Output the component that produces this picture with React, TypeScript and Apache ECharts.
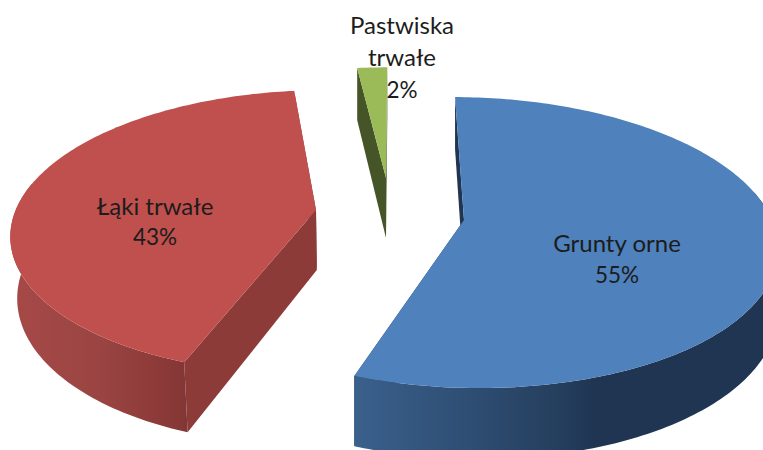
import React, { useEffect, useRef } from "react";
import * as echarts from "echarts";

const categories = ["Grunty orne", "Łąki trwałe", "Pastwiska\ntrwałe"];
const shares = [55.45, 42.55, 2.0];

const topColors = ["#4f81bd", "#c0504d", "#9bbb59"];
const cutColors = ["#1f3552", "#8d3b39", "#465527"];
const wallStops = [
  [[0, "#3a608c"], [0.27, "#2e4e73"], [0.5, "#243d5c"], [0.57, "#1f3552"], [1, "#1f3552"]],
  [[0, "#a64947"], [0.5, "#9a4543"], [0.8, "#8e3b39"], [0.97, "#853736"], [1, "#803534"]],
  [[0, "#465527"], [1, "#465527"]],
];
// exploded apex of each slice, radius factor, baselines of label lines
const apexes = [[464, 220], [316, 210], [386, 178]];
const radiusScale = [1, 0.975, 0.9];
const labelX = [617, 155, 402];
const labelY = [[242, 274], [205, 236], [24, 56, 89]];

const FIRST_ANGLE = 0.5;
const VANISH_X = 380;
const TILT = 0.155;
const RADIUS_X = 308;
const RADIUS_Y = 142;
const DEPTH = 60;
const FLOOR_X = 356;
const FLOOR_SHRINK = 0.98;

const floorX = (x: number) => (x < FLOOR_X ? FLOOR_X + (x - FLOOR_X) * FLOOR_SHRINK : x);

function project(i: number, deg: number) {
  const t = (deg * Math.PI) / 180;
  const v = -Math.cos(t);
  const d = 1 - TILT * v;
  const k = radiusScale[i];
  const [ax, ay] = apexes[i];
  return {
    x: VANISH_X + (ax - VANISH_X + RADIUS_X * k * Math.sin(t)) / d,
    y: ay + (RADIUS_Y * k * v) / d,
    h: DEPTH / d,
    v,
  };
}

function renderSlice(params: any, api: any) {
  const i = params.dataIndex;
  const total = shares.reduce((a, b) => a + b, 0);
  let start = FIRST_ANGLE;
  for (let j = 0; j < i; j++) start += (shares[j] / total) * 360;
  const end = start + (api.value(0) / total) * 360;
  const [ax, ay] = apexes[i];

  const rim: any[] = [];
  for (let a = start; a < end; a += 1) rim.push(project(i, a));
  rim.push(project(i, end));

  const first = rim[0];
  const last = rim[rim.length - 1];
  const children: any[] = [];
  const face = (pts: number[][], fill: any, z2: number) => ({
    type: "polygon",
    z2,
    shape: { points: pts },
    style: { fill, stroke: null },
  });

  children.push(
    face([[ax, ay], [first.x, first.y], [floorX(first.x), first.y + first.h], [floorX(ax), ay + DEPTH]], cutColors[i], 1),
    face([[ax, ay], [last.x, last.y], [floorX(last.x), last.y + last.h], [floorX(ax), ay + DEPTH]], cutColors[i], 1)
  );

  const front = rim.filter((p) => p.v > -0.2);
  if (front.length > 1) {
    const upper = front.map((p) => [p.x, p.y]);
    const lower = front.map((p) => [floorX(p.x), p.y + p.h]).reverse();
    children.push(
      face(
        upper.concat(lower),
        new echarts.graphic.LinearGradient(
          0, 0, 1, 0,
          wallStops[i].map((s: any) => ({ offset: s[0], color: s[1] }))
        ),
        2
      )
    );
  }

  children.push(face([[ax, ay]].concat(rim.map((p) => [p.x, p.y])), topColors[i], 3));

  const lines = categories[i].split("\n");
  lines.concat(`${Math.round(api.value(0))}%`).forEach((line, n) => {
    children.push({
      type: "text",
      z2: 10,
      x: labelX[i],
      y: labelY[i][n],
      style: {
        text: line,
        fill: "#1c1c1c",
        font: n < lines.length ? "24px Lato" : "22.5px Lato",
        align: "center",
        verticalAlign: "middle",
      },
    });
  });

  return { type: "group", children };
}

export default function App() {
  const ref = useRef<HTMLDivElement>(null);
  useEffect(() => {
    document.body.style.margin = "0";
    const chart = echarts.init(ref.current!, null, { renderer: "svg" });
    chart.setOption({
      animation: false,
      backgroundColor: "#ffffff",
      series: [
        {
          type: "custom",
          coordinateSystem: "none",
          silent: true,
          renderItem: renderSlice,
          data: shares.map((s, i) => ({ name: categories[i], value: [s] })),
        },
      ],
    });
    return () => chart.dispose();
  }, []);
  return <div ref={ref} style={{ width: 763, height: 450, overflow: "hidden" }} />;
}
